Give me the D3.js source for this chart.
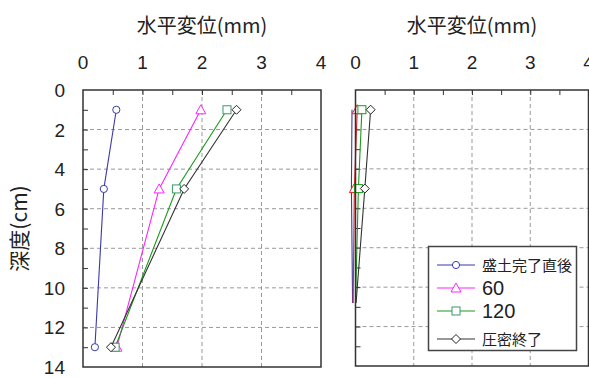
<!DOCTYPE html>
<html><head><meta charset="utf-8">
<script src="https://cdn.jsdelivr.net/npm/d3@7"></script>
<style>
body{margin:0;background:#fff;}
text{font-family:"Liberation Sans",Arial,sans-serif;}
.jp{font-family:"Noto Sans CJK JP","Noto Sans",sans-serif;}
</style></head>
<body>
<svg id="c" width="589" height="378"></svg>
<script>
const seriesNames = ["盛土完了直後", "60", "120", "圧密終了"];
const xTicks = [0, 1, 2, 3, 4];
const yTicks = [0, 2, 4, 6, 8, 10, 12, 14];
const depthsLeft = [1, 5, 13];
const leftBlue = [0.56, 0.35, 0.20];
const leftMagenta = [1.98, 1.28, 0.57];
const leftGreen = [2.42, 1.57, 0.54];
const leftBlack = [2.58, 1.70, 0.47];
const depthsRight = [1, 5, 10.8];
const rightBlue = [-0.06, -0.07, -0.05];
const rightRed = [0.03, -0.02, -0.04];
const rightGreen = [0.11, 0.05, 0.0];
const rightBlack = [0.26, 0.16, 0.01];
const rightMarkedPoints = [0, 1];

const svg = d3.select("#c");

function panel(x0, x1, y0, y1, showY, series) {
  const x = d3.scaleLinear().domain([0, 4]).range([x0, x1]);
  const y = d3.scaleLinear().domain([0, 14]).range([y0, y1]);
  const g = svg.append("g");
  g.selectAll(".gv").data([1, 2, 3]).enter().append("line")
    .attr("x1", d => x(d)).attr("x2", d => x(d)).attr("y1", y0).attr("y2", y1)
    .attr("stroke", "#999").attr("stroke-dasharray", "4,3").attr("stroke-width", 1);
  g.selectAll(".gh").data([2, 4, 6, 8, 10, 12]).enter().append("line")
    .attr("y1", d => y(d)).attr("y2", d => y(d)).attr("x1", x0).attr("x2", x1)
    .attr("stroke", "#999").attr("stroke-dasharray", "4,3").attr("stroke-width", 1);
  const xt = d3.axisTop(x).tickValues(d3.range(0.5, 4, 0.5)).tickSize(-5).tickFormat("");
  const ax = g.append("g").attr("transform", `translate(0,${y0})`).call(xt);
  ax.select(".domain").remove();
  ax.selectAll("line").attr("stroke", "#333");
  const yt = d3.axisLeft(y).tickValues(d3.range(1, 14, 1)).tickSize(-5).tickFormat("");
  const ay = g.append("g").attr("transform", `translate(${x0},0)`).call(yt);
  ay.select(".domain").remove();
  ay.selectAll("line").attr("stroke", "#333");
  g.selectAll(".xl").data(xTicks).enter().append("text")
    .attr("x", d => x(d)).attr("y", 69).attr("text-anchor", "middle")
    .attr("font-size", 19).attr("fill", "#222").text(d => d);
  g.append("text").attr("class", "jp").attr("x", (x0 + x1) / 2).attr("y", 33)
    .attr("text-anchor", "middle").attr("font-size", 20).attr("fill", "#222").text("水平変位(mm)");
  if (showY) {
    g.selectAll(".yl").data(yTicks).enter().append("text")
      .attr("x", 65).attr("y", d => y(d) + 7).attr("text-anchor", "end")
      .attr("font-size", 19).attr("fill", "#222").text(d => d);
    g.append("text").attr("class", "jp").attr("transform", `translate(27,${(y0 + y1) / 2}) rotate(-90)`)
      .attr("text-anchor", "middle").attr("font-size", 21).attr("fill", "#222").text("深度(cm)");
  }
  const line = d3.line().x(d => x(d[0])).y(d => y(d[1]));
  series.forEach(s => {
    const pts = s.vals.map((v, i) => [v, s.depths[i]]);
    g.append("path").datum(pts).attr("d", line).attr("fill", "none")
      .attr("stroke", s.color).attr("stroke-width", 1.1);
    if (s.marker) {
      pts.forEach((p, i) => {
        if (!s.marked || s.marked.includes(i)) drawMarker(g, s.marker, x(p[0]), y(p[1]), s.mcolor);
      });
    }
  });
  g.append("rect").attr("x", x0).attr("y", y0).attr("width", x1 - x0).attr("height", y1 - y0)
    .attr("fill", "none").attr("stroke", "#333").attr("stroke-width", 1.5);
}

function drawMarker(g, type, cx, cy, color) {
  if (type === "circle") {
    g.append("circle").attr("cx", cx).attr("cy", cy).attr("r", 3.6)
      .attr("fill", "#fff").attr("stroke", color).attr("stroke-width", 1);
  } else if (type === "triangle") {
    g.append("path").attr("d", `M${cx},${cy - 5}L${cx + 5},${cy + 4}L${cx - 5},${cy + 4}Z`)
      .attr("fill", "#fff").attr("stroke", color).attr("stroke-width", 1);
  } else if (type === "square") {
    g.append("rect").attr("x", cx - 4).attr("y", cy - 4).attr("width", 8).attr("height", 8)
      .attr("fill", "#fff").attr("stroke", color).attr("stroke-width", 1);
  } else if (type === "diamond") {
    g.append("path").attr("d", `M${cx},${cy - 4.5}L${cx + 4.5},${cy}L${cx},${cy + 4.5}L${cx - 4.5},${cy}Z`)
      .attr("fill", "#fff").attr("stroke", color).attr("stroke-width", 1);
  }
}

panel(83, 321, 90, 367, true, [
  {vals: leftBlue, depths: depthsLeft, color: "#3a3aa8", marker: "circle", mcolor: "#3a3aa8"},
  {vals: leftMagenta, depths: depthsLeft, color: "#ff22ff", marker: "triangle", mcolor: "#ff22ff"},
  {vals: leftGreen, depths: depthsLeft, color: "#1a9a1a", marker: "square", mcolor: "#3a9a6a"},
  {vals: leftBlack, depths: depthsLeft, color: "#333", marker: "diamond", mcolor: "#222"}
]);
panel(355.5, 588.5, 90, 366, false, [
  {vals: rightBlue, depths: depthsRight, color: "#3a3aa8", marker: null},
  {vals: rightRed, depths: depthsRight, color: "#ee2222", marker: "triangle", mcolor: "#ee2222", marked: rightMarkedPoints},
  {vals: rightGreen, depths: depthsRight, color: "#1a9a1a", marker: "square", mcolor: "#1a9a1a", marked: rightMarkedPoints},
  {vals: rightBlack, depths: depthsRight, color: "#333", marker: "diamond", mcolor: "#222", marked: rightMarkedPoints}
]);

const lg = svg.append("g");
lg.append("rect").attr("x", 428.5).attr("y", 246.5).attr("width", 148).attr("height", 104)
  .attr("fill", "#fff").attr("stroke", "#444").attr("stroke-width", 1.5);
const legendRows = [
  {name: seriesNames[0], color: "#3a3aa8", marker: "circle", mcolor: "#3a3aa8", y: 265, jp: true},
  {name: seriesNames[1], color: "#ff22ff", marker: "triangle", mcolor: "#ff22ff", y: 288, jp: false},
  {name: seriesNames[2], color: "#1a9a1a", marker: "square", mcolor: "#3a9a6a", y: 311, jp: false},
  {name: seriesNames[3], color: "#333", marker: "diamond", mcolor: "#222", y: 339, jp: true}
];
legendRows.forEach(r => {
  lg.append("line").attr("x1", 437).attr("x2", 475).attr("y1", r.y).attr("y2", r.y)
    .attr("stroke", r.color).attr("stroke-width", 1.1);
  drawMarker(lg, r.marker, 456, r.y, r.mcolor);
  lg.append("text").attr("class", r.jp ? "jp" : null).attr("x", 482)
    .attr("y", r.y + (r.jp ? 6 : 7)).attr("font-size", r.jp ? 15 : 20).attr("fill", "#222").text(r.name);
});
</script>
</body></html>
